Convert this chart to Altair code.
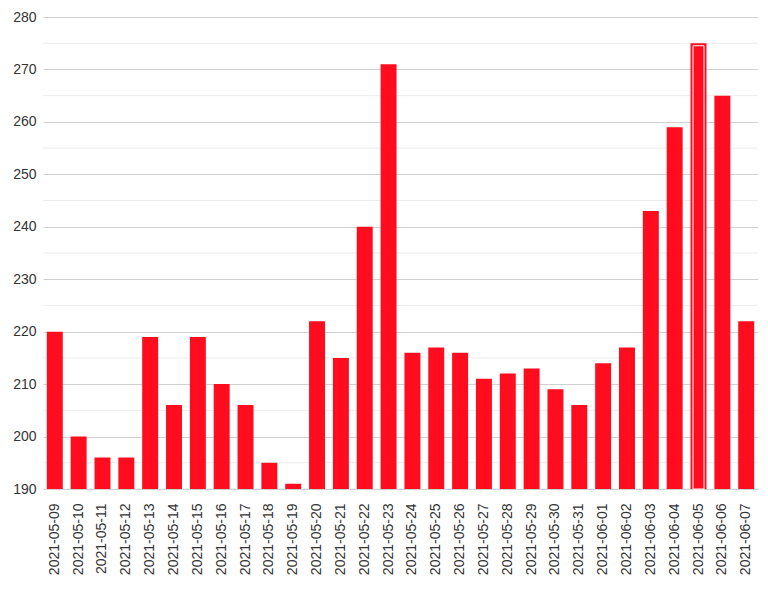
import altair as alt
import pandas as pd

dates = ["2021-05-09","2021-05-10","2021-05-11","2021-05-12","2021-05-13","2021-05-14",
         "2021-05-15","2021-05-16","2021-05-17","2021-05-18","2021-05-19","2021-05-20",
         "2021-05-21","2021-05-22","2021-05-23","2021-05-24","2021-05-25","2021-05-26",
         "2021-05-27","2021-05-28","2021-05-29","2021-05-30","2021-05-31","2021-06-01",
         "2021-06-02","2021-06-03","2021-06-04","2021-06-05","2021-06-06","2021-06-07"]
values = [220, 200, 196, 196, 219, 206, 219, 210, 206, 195, 191, 222, 215, 240, 271,
          216, 217, 216, 211, 212, 213, 209, 206, 214, 217, 243, 259, 275, 265, 222]
highlight_date = "2021-06-05"
major_ticks = [190, 200, 210, 220, 230, 240, 250, 260, 270, 280]
minor_ticks = [195, 205, 215, 225, 235, 245, 255, 265, 275]

df = pd.DataFrame({"date": dates, "value": values})
df_hl = df[df["date"] == highlight_date]
df_minor = pd.DataFrame({"v": minor_ticks})

RED = "#ff0d1f"
FONT = "Liberation Sans"

xaxis = alt.Axis(labelAngle=-90, labelFontSize=14, labelColor="#333",
                 labelFont=FONT, ticks=False, domain=False, grid=False,
                 labelPadding=14, labelBaseline="middle", labelAlign="right")
yaxis = alt.Axis(values=major_ticks, labelFontSize=14, labelColor="#333",
                 labelFont=FONT, ticks=False, domain=False, labelPadding=7,
                 gridColor="#d0d0d0", gridWidth=1)
xscale = alt.Scale(paddingInner=0.33, paddingOuter=0.16)
yscale = alt.Scale(domain=[190, 280], nice=False, zero=False)

minor = alt.Chart(df_minor).mark_rule(color="#ececec", strokeWidth=1).encode(
    y=alt.Y("v:Q", scale=yscale, title=None, axis=yaxis),
    x=alt.value(0),
    x2=alt.value(715),
)

bars = alt.Chart(df).mark_bar(color=RED).encode(
    x=alt.X("date:N", sort=dates, title=None, scale=xscale, axis=xaxis),
    y=alt.Y("value:Q", scale=yscale, title=None, axis=yaxis),
    y2=alt.datum(190),
)

hl = alt.Chart(df_hl).mark_bar(width=11, fillOpacity=0, stroke="white",
                               strokeWidth=1, yOffset=2.5).encode(
    x=alt.X("date:N", sort=dates, title=None, scale=xscale, axis=xaxis),
    y=alt.Y("value:Q", scale=yscale, title=None, axis=yaxis),
    y2=alt.datum(190),
)

chart = alt.layer(minor, bars, hl).properties(
    width=715, height=472,
    padding={"left": 4, "top": 2, "right": 0, "bottom": 0},
).configure(background="white").configure_view(
    stroke="transparent", strokeWidth=0
).configure_axis(domain=False, ticks=False)

chart.save("out.html", embed_options={"renderer": "svg", "actions": False})
